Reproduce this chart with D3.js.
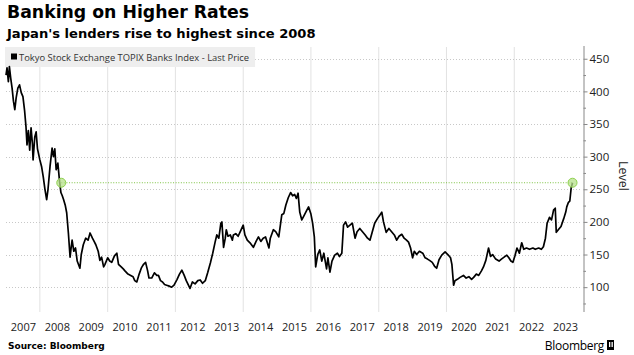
<!DOCTYPE html>
<html>
<head>
<meta charset="utf-8">
<script src="https://cdn.jsdelivr.net/npm/d3@7"></script>
<style>
  html, body { margin: 0; padding: 0; background: #fff; }
  svg { display: block; }
</style>
</head>
<body>
<svg id="chart" width="634" height="355"></svg>
<script>
// ---------------- DATA ----------------
const title = "Banking on Higher Rates";
const subtitle = "Japan's lenders rise to highest since 2008";
const seriesName = "Tokyo Stock Exchange TOPIX Banks Index - Last Price";
const yAxisTitle = "Level";
const sourceText = "Source: Bloomberg";

const times = [
  2007.00,2007.03,2007.07,2007.10,2007.14,2007.18,2007.22,2007.26,2007.30,2007.35,2007.40,2007.45,2007.50,2007.55,2007.59,2007.62,2007.66,2007.70,2007.74,2007.78,2007.80,2007.85,2007.89,2007.93,
  2008.00,2008.05,2008.10,2008.15,2008.20,2008.24,2008.30,2008.36,2008.40,2008.44,2008.48,2008.53,2008.58,2008.62,2008.66,2008.70,2008.75,2008.79,2008.84,2008.89,2008.92,2008.95,
  2009.00,2009.05,2009.10,2009.18,2009.22,2009.28,2009.35,2009.42,2009.48,2009.55,2009.60,2009.65,2009.72,2009.77,2009.82,2009.88,2009.92,
  2010.00,2010.06,2010.12,2010.20,2010.27,2010.32,2010.40,2010.46,2010.51,2010.60,2010.68,2010.75,2010.80,2010.86,2010.93,
  2011.00,2011.06,2011.12,2011.18,2011.22,2011.30,2011.38,2011.45,2011.50,2011.56,2011.62,2011.68,2011.74,2011.80,2011.89,2011.96,
  2012.05,2012.12,2012.19,2012.26,2012.32,2012.43,2012.50,2012.58,2012.66,2012.73,2012.80,2012.88,2012.95,
  2013.03,2013.10,2013.17,2013.22,2013.28,2013.34,2013.37,2013.42,2013.47,2013.50,2013.55,2013.62,2013.68,2013.71,2013.78,2013.85,2013.92,
  2014.00,2014.05,2014.12,2014.20,2014.30,2014.38,2014.45,2014.52,2014.59,2014.66,2014.76,2014.80,2014.89,2014.96,
  2015.05,2015.14,2015.20,2015.26,2015.33,2015.40,2015.46,2015.52,2015.57,2015.62,2015.67,2015.73,2015.80,2015.86,2015.93,
  2016.00,2016.05,2016.10,2016.14,2016.20,2016.26,2016.32,2016.38,2016.46,2016.50,2016.56,2016.62,2016.70,2016.78,2016.84,2016.91,2016.96,
  2017.02,2017.08,2017.15,2017.22,2017.30,2017.36,2017.44,2017.52,2017.60,2017.67,2017.74,2017.80,2017.88,2017.96,
  2018.04,2018.09,2018.14,2018.22,2018.30,2018.38,2018.46,2018.53,2018.60,2018.68,2018.75,2018.82,2018.88,2018.94,
  2019.00,2019.05,2019.12,2019.20,2019.30,2019.37,2019.44,2019.50,2019.58,2019.65,2019.71,2019.78,2019.86,2019.96,
  2020.04,2020.12,2020.16,2020.21,2020.25,2020.32,2020.40,2020.50,2020.58,2020.66,2020.74,2020.80,2020.88,2020.95,
  2021.03,2021.09,2021.16,2021.24,2021.30,2021.36,2021.45,2021.55,2021.62,2021.70,2021.78,2021.84,2021.90,2021.96,
  2022.02,2022.08,2022.15,2022.22,2022.28,2022.36,2022.45,2022.55,2022.62,2022.72,2022.80,2022.86,2022.92,2022.97,
  2023.04,2023.10,2023.16,2023.21,2023.24,2023.30,2023.38,2023.46,2023.52,2023.55,2023.60,2023.64,2023.68,2023.72
];
const values = [
  425,436,415,438,420,405,385,372,390,405,410,398,392,370,346,318,340,310,344,320,295,330,338,312,
  295,285,269,250,234,250,285,313,300,312,280,290,262,245,240,234,225,214,183,146,160,172,
  155,160,140,129,150,165,175,172,183,175,170,165,155,141,146,131,135,
  145,140,138,148,152,135,131,128,125,120,118,116,110,108,120,
  130,135,138,125,114,114,122,118,118,110,108,104,103,102,100,103,
  112,120,126,118,110,98,108,105,110,111,106,110,122,
  137,152,169,180,175,198,200,161,175,188,178,180,172,180,182,178,186,
  195,180,172,168,161,170,177,170,175,177,160,175,188,185,
  177,211,213,226,237,245,240,242,236,244,215,203,210,216,223,
  212,198,177,131,150,157,140,152,128,145,123,140,149,152,147,152,195,
  200,192,195,198,175,185,190,185,180,175,172,183,198,205,
  211,215,200,184,190,185,180,172,178,181,175,172,169,160,
  145,155,150,155,152,145,143,141,138,132,129,142,149,154,
  150,145,135,103,110,112,115,118,114,116,112,115,120,118,
  125,131,141,160,147,150,143,140,143,146,149,145,140,138,
  148,160,152,168,158,160,158,160,158,160,158,162,175,198,
  207,203,218,221,184,188,193,205,215,223,230,232,252,260
];

// highlight level (highest since 2008)
const refLevel = 260;
const refStartTime = 2008.63;

const yTicks = [100,150,200,250,300,350,400,450];
const yMinorTicks = [75,125,175,225,275,325,375,425,475];
const yearLabels = ["2007","2008","2009","2010","2011","2012","2013","2014","2015","2016","2017","2018","2019","2020","2021","2022","2023"];
const gridYears = [2008,2010,2012,2014,2016,2018,2020,2022];

// ---------------- HELPERS ----------------
function toDate(t) {
  const y = Math.floor(t);
  const start = Date.UTC(y, 0, 1), end = Date.UTC(y + 1, 0, 1);
  return new Date(start + (t - y) * (end - start));
}
const data = times.map((t, i) => ({ date: toDate(t), value: values[i] }));

// ---------------- LAYOUT ----------------
const svg = d3.select("#chart");
const W = 634, H = 355;
const plot = { left: 6, right: 582, top: 47, bottom: 310 };

const x = d3.scaleUtc()
  .domain([new Date(Date.UTC(2007,0,1)), new Date(Date.UTC(2024,0,1))])
  .range([plot.left, plot.right]);
const y = d3.scaleLinear().domain([65, 468]).range([plot.bottom, plot.top]);

svg.append("rect").attr("width", W).attr("height", H).attr("fill", "#fff");

// Title & subtitle
svg.append("text").attr("x", 7).attr("y", 18)
  .attr("font-family", "DejaVu Sans, Verdana, sans-serif").attr("font-weight", "bold")
  .attr("font-size", 17.3).attr("fill", "#000").text(title);
svg.append("text").attr("x", 7).attr("y", 37.5)
  .attr("font-family", "DejaVu Sans, Verdana, sans-serif").attr("font-weight", "bold")
  .attr("font-size", 13.1).attr("fill", "#000").text(subtitle);

// vertical gridlines
svg.append("g").selectAll("line").data(gridYears).join("line")
  .attr("x1", d => x(new Date(Date.UTC(d,0,1)))).attr("x2", d => x(new Date(Date.UTC(d,0,1))))
  .attr("y1", plot.top).attr("y2", plot.bottom + 2)
  .attr("stroke", "#e2e2e2").attr("stroke-width", 1);

// horizontal gridlines (dotted)
svg.append("g").selectAll("line").data(yTicks).join("line")
  .attr("x1", plot.left).attr("x2", plot.right)
  .attr("y1", d => Math.round(y(d)) + 0.5).attr("y2", d => Math.round(y(d)) + 0.5)
  .attr("stroke", "#c8c8c8").attr("stroke-width", 1).attr("stroke-dasharray", "1,2");

// legend box
const legendG = svg.append("g");
const legendRect = legendG.append("rect").attr("x", 5).attr("y", 47).attr("height", 20).attr("fill", "#eeeeee");
legendG.append("rect").attr("x", 11).attr("y", 53.5).attr("width", 6).attr("height", 6).attr("fill", "#000");
const legendText = legendG.append("text").attr("x", 19).attr("y", 60.5)
  .attr("font-family", "Open Sans, Liberation Sans, sans-serif").attr("font-size", 9.4)
  .attr("fill", "#333").text(seriesName);
legendRect.attr("width", 19 + legendText.node().getComputedTextLength() + 6 - 5);

// green reference line
const lastPoint = data[data.length - 1];
const refStartDate = toDate(refStartTime);
svg.append("line")
  .attr("x1", x(refStartDate)).attr("x2", x(lastPoint.date))
  .attr("y1", y(refLevel)).attr("y2", y(refLevel))
  .attr("stroke", "#7cc242").attr("stroke-width", 1).attr("stroke-dasharray", "1,1.6");

// price line
svg.append("path").datum(data)
  .attr("fill", "none").attr("stroke", "#000").attr("stroke-width", 1.7)
  .attr("stroke-linejoin", "round")
  .attr("d", d3.line().x(d => x(d.date)).y(d => y(d.value)));

// green markers
svg.append("g").selectAll("circle")
  .data([{ date: refStartDate, value: refLevel }, { date: lastPoint.date, value: refLevel }])
  .join("circle")
  .attr("cx", d => x(d.date)).attr("cy", d => y(d.value)).attr("r", 4.5)
  .attr("fill", "#b5e08a").attr("fill-opacity", 0.75)
  .attr("stroke", "#8fd14f").attr("stroke-width", 1);

// y axis on right
const yAxis = d3.axisRight(y).tickValues(yTicks).tickSize(4).tickPadding(2).tickFormat(d3.format("d"));
const yAxisG = svg.append("g").attr("transform", `translate(${plot.right + 1.5},0)`).call(yAxis);
yAxisG.select(".domain").attr("stroke", "#888").attr("d", `M0.5,${plot.top - 1}V${plot.bottom + 2}`);
yAxisG.selectAll(".tick line").attr("stroke", "#888");
yAxisG.selectAll(".tick text").attr("font-family", "Open Sans, Liberation Sans, sans-serif")
  .attr("font-size", 11.5).attr("fill", "#222");
const yMinor = d3.axisRight(y).tickValues(yMinorTicks.filter(v => y(v) >= plot.top && y(v) <= plot.bottom)).tickSize(2.5).tickFormat("");
const yMinorG = svg.append("g").attr("transform", `translate(${plot.right + 1.5},0)`).call(yMinor);
yMinorG.select(".domain").remove();
yMinorG.selectAll(".tick line").attr("stroke", "#888");

// Y axis title
svg.append("text")
  .attr("transform", `translate(619,176) rotate(90)`)
  .attr("text-anchor", "middle")
  .attr("font-family", "Open Sans, Liberation Sans, sans-serif").attr("font-size", 12.5)
  .attr("fill", "#222").text(yAxisTitle);

// X axis year labels (centred mid-year)
const xAxis = d3.axisBottom(x)
  .tickValues(yearLabels.map(s => new Date(Date.UTC(+s, 6, 2))))
  .tickSize(0).tickPadding(0)
  .tickFormat((d, i) => yearLabels[i]);
const xAxisG = svg.append("g").attr("transform", `translate(0,${plot.bottom + 13})`).call(xAxis);
xAxisG.select(".domain").remove();
xAxisG.selectAll(".tick text").attr("font-family", "Open Sans, Liberation Sans, sans-serif")
  .attr("font-size", 11).attr("fill", "#222");

// Footer
svg.append("text").attr("x", 8).attr("y", 349)
  .attr("font-family", "DejaVu Sans, Verdana, sans-serif").attr("font-weight", "bold")
  .attr("font-size", 9).attr("fill", "#000").text(sourceText);
svg.append("text").attr("x", 604).attr("y", 350).attr("text-anchor", "end")
  .attr("font-family", "Open Sans, Liberation Sans, sans-serif").attr("font-size", 12)
  .attr("fill", "#000").attr("letter-spacing", -0.3).text("Bloomberg");
svg.append("rect").attr("x", 607).attr("y", 340).attr("width", 7).attr("height", 10).attr("fill", "#000");
svg.append("rect").attr("x", 609).attr("y", 342).attr("width", 1.3).attr("height", 5).attr("fill", "#fff");
svg.append("rect").attr("x", 611.5).attr("y", 342).attr("width", 1.3).attr("height", 5).attr("fill", "#fff");
</script>
</body>
</html>
